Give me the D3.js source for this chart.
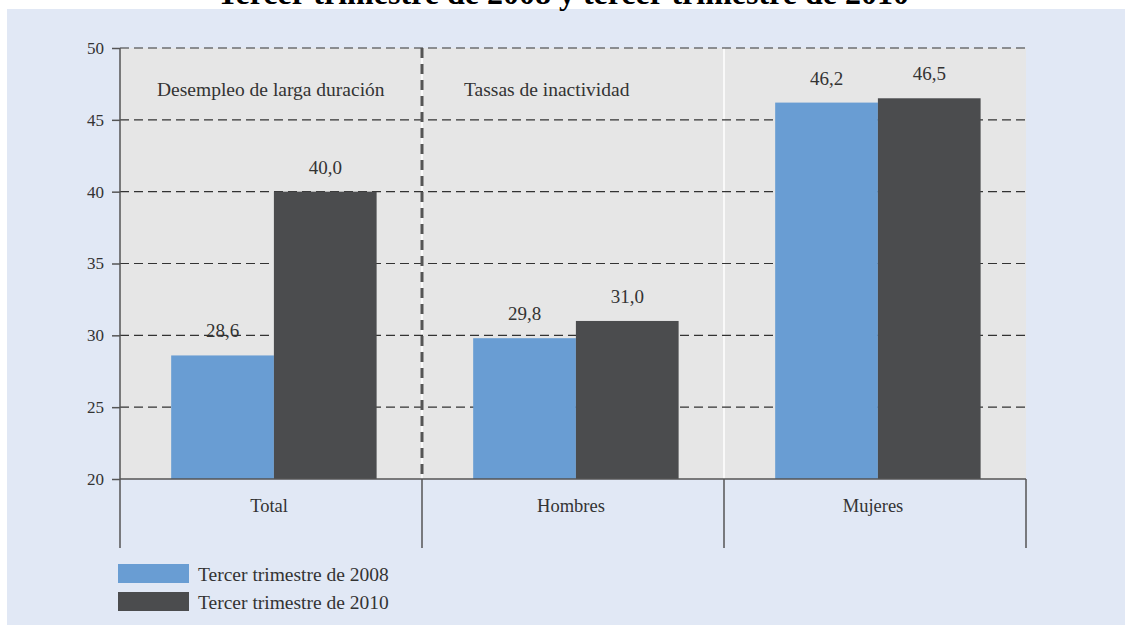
<!DOCTYPE html>
<html>
<head>
<meta charset="utf-8">
<script src="https://cdn.jsdelivr.net/npm/d3@7"></script>
<style>
  html, body { margin: 0; padding: 0; background: #ffffff; }
  svg { display: block; }
  text { font-family: "Liberation Serif", "DejaVu Serif", serif; fill: #333333; }
</style>
</head>
<body>
<svg id="chart" width="1125" height="625"></svg>
<script>
// Categories and series
const categories = ["Total", "Hombres", "Mujeres"];
const seriesNames = ["Tercer trimestre de 2008", "Tercer trimestre de 2010"];
const values2008 = [28.6, 29.8, 46.2];
const values2010 = [40.0, 31.0, 46.5];
const yTicks = [20, 25, 30, 35, 40, 45, 50];
const sectionLabels = ["Desempleo de larga duración", "Tassas de inactividad"];
const titleText = "Tercer trimestre de 2008 y tercer trimestre de 2010";

const colors = ["#699dd3", "#4b4c4e"];
const rows = categories.map((c, i) => ({ category: c, values: [values2008[i], values2010[i]] }));

const svg = d3.select("#chart");
const W = 1125, H = 625;
const margin = { left: 120, right: 99, top: 48, bottom: 146 };
const plotW = W - margin.left - margin.right;
const plotH = H - margin.top - margin.bottom;

// Page panel
svg.append("rect").attr("x", 7).attr("y", 9).attr("width", W - 7).attr("height", H - 9).attr("fill", "#e1e8f5");

// Title (sits above the panel, partly clipped by the top edge)
svg.append("text")
  .attr("x", 563).attr("y", 4)
  .attr("text-anchor", "middle")
  .style("font-weight", "bold").style("font-size", "32px").style("fill", "#000")
  .text(titleText);

const g = svg.append("g").attr("transform", `translate(${margin.left},${margin.top})`);

const x0 = d3.scaleBand().domain(categories).range([0, plotW]).paddingInner(0).paddingOuter(0);
const x1 = d3.scaleBand().domain(d3.range(seriesNames.length)).range([0, x0.bandwidth()])
  .paddingInner(0).paddingOuter(0.47).align(0.53);
const y = d3.scaleLinear().domain([20, 50]).range([plotH, 0]);

// Plot background
g.append("rect").attr("width", plotW).attr("height", plotH).attr("fill", "#e6e6e6");

// White separators between groups inside the plot
g.selectAll("line.sep").data(categories.slice(1)).join("line")
  .attr("class", "sep")
  .attr("x1", d => x0(d)).attr("x2", d => x0(d))
  .attr("y1", 0).attr("y2", plotH)
  .attr("stroke", "#ffffff").attr("stroke-width", 1.5);

// Dashed grid lines
g.selectAll("line.grid").data(yTicks.slice(1)).join("line")
  .attr("class", "grid")
  .attr("x1", 0).attr("x2", plotW)
  .attr("y1", d => y(d)).attr("y2", d => y(d))
  .attr("stroke", "#333333").attr("stroke-width", 1.2).attr("stroke-dasharray", "9,5");

// Bars
const groups = g.selectAll("g.grp").data(rows).join("g")
  .attr("class", "grp")
  .attr("transform", d => `translate(${x0(d.category)},0)`);

groups.selectAll("rect").data(d => d.values.map((v, i) => ({ v, i }))).join("rect")
  .attr("x", d => x1(d.i))
  .attr("y", d => y(d.v))
  .attr("width", x1.bandwidth())
  .attr("height", d => plotH - y(d.v))
  .attr("fill", d => colors[d.i]);

// Value labels
groups.selectAll("text.val").data(d => d.values.map((v, i) => ({ v, i }))).join("text")
  .attr("class", "val")
  .attr("x", d => x1(d.i) + x1.bandwidth() / 2)
  .attr("y", d => y(d.v) - 18)
  .attr("text-anchor", "middle")
  .style("font-size", "19px")
  .text(d => d3.format(".1f")(d.v).replace(".", ","));

// Heavy dashed divider between the two indicator sections
g.append("line")
  .attr("x1", x0("Hombres")).attr("x2", x0("Hombres"))
  .attr("y1", 0).attr("y2", plotH)
  .attr("stroke", "#555555").attr("stroke-width", 3).attr("stroke-dasharray", "10,6");

// Section labels
g.append("text").attr("x", x0("Total") + 37).attr("y", 48).style("font-size", "19.5px").text(sectionLabels[0]);
g.append("text").attr("x", x0("Hombres") + 42).attr("y", 48).style("font-size", "19.5px").text(sectionLabels[1]);

// Y axis
const yAxis = g.append("g").call(d3.axisLeft(y).tickValues(yTicks).tickSize(8).tickPadding(8).tickFormat(d3.format("d")));
yAxis.select(".domain").remove();
yAxis.selectAll(".tick line").attr("stroke", "#555555").attr("stroke-width", 1.5);
yAxis.selectAll(".tick text").style("font-size", "17px").style("font-family", "'Liberation Serif', serif").attr("fill", "#333333");

// Axis frame lines
const extend = 69;
g.append("line").attr("x1", 0).attr("x2", 0).attr("y1", 0).attr("y2", plotH + extend).attr("stroke", "#555555").attr("stroke-width", 1.5);
g.append("line").attr("x1", 0).attr("x2", plotW).attr("y1", plotH).attr("y2", plotH).attr("stroke", "#555555").attr("stroke-width", 1.5);
g.selectAll("line.catsep").data(categories.slice(1).map(c => x0(c)).concat([plotW])).join("line")
  .attr("class", "catsep")
  .attr("x1", d => d).attr("x2", d => d)
  .attr("y1", plotH).attr("y2", plotH + extend)
  .attr("stroke", "#555555").attr("stroke-width", 1.5);

// Category labels
g.selectAll("text.cat").data(categories).join("text")
  .attr("class", "cat")
  .attr("x", d => x0(d) + x0.bandwidth() / 2 - 2)
  .attr("y", plotH + 33)
  .attr("text-anchor", "middle")
  .style("font-size", "18.5px")
  .text(d => d);

// Legend
const legend = svg.append("g").attr("transform", "translate(118,564)");
seriesNames.forEach((name, i) => {
  const row = legend.append("g").attr("transform", `translate(0,${i * 28})`);
  row.append("rect").attr("width", 71).attr("height", 19).attr("fill", colors[i]);
  row.append("text").attr("x", 80).attr("y", 17).style("font-size", "19.5px").text(name);
});
</script>
</body>
</html>
